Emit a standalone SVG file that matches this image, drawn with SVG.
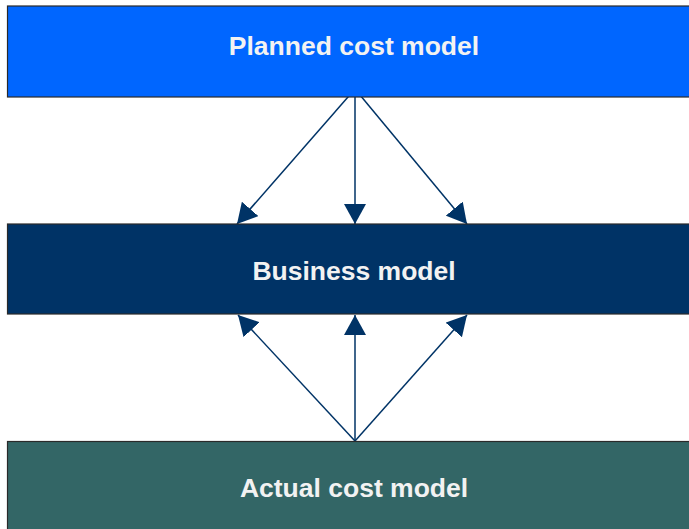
<svg xmlns="http://www.w3.org/2000/svg" width="689" height="529" viewBox="0 0 689 529">
<defs>
<style>
.box{stroke:#2a2a2a;stroke-width:1.2}
.lbl{font-family:"Liberation Sans",Arial,sans-serif;font-weight:bold;font-size:26.5px;fill:#f2f2f2;text-anchor:middle}
.conn{stroke:#003366;stroke-width:1.5;fill:none;marker-end:url(#ah)}
</style>
<marker id="ah" viewBox="0 0 20 22" refX="20" refY="11" markerWidth="20" markerHeight="22" markerUnits="userSpaceOnUse" orient="auto">
<path d="M0,0 L20,11 L0,22 Z" fill="#003366"/>
</marker>
</defs>
<rect width="689" height="529" fill="#ffffff"/>
<g id="connectors">
<line class="conn" x1="355" y1="89" x2="237" y2="224"/>
<line class="conn" x1="355" y1="97" x2="355" y2="224"/>
<line class="conn" x1="355" y1="89" x2="467" y2="224"/>
<line class="conn" x1="355" y1="441" x2="238" y2="315"/>
<line class="conn" x1="355" y1="441" x2="355" y2="315"/>
<line class="conn" x1="355" y1="441" x2="467" y2="315"/>
</g>
<g id="planned">
<rect class="box" x="7.5" y="6" width="690" height="91" fill="#0066ff"/>
<text class="lbl" x="354" y="55">Planned cost model</text>
</g>
<g id="business">
<rect class="box" x="7.5" y="224" width="690" height="90" fill="#003366"/>
<text class="lbl" x="354" y="280">Business model</text>
</g>
<g id="actual">
<rect class="box" x="7.5" y="441.5" width="690" height="100" fill="#336666" stroke="#4a7a7a"/>
<text class="lbl" x="354" y="497">Actual cost model</text>
</g>
</svg>
